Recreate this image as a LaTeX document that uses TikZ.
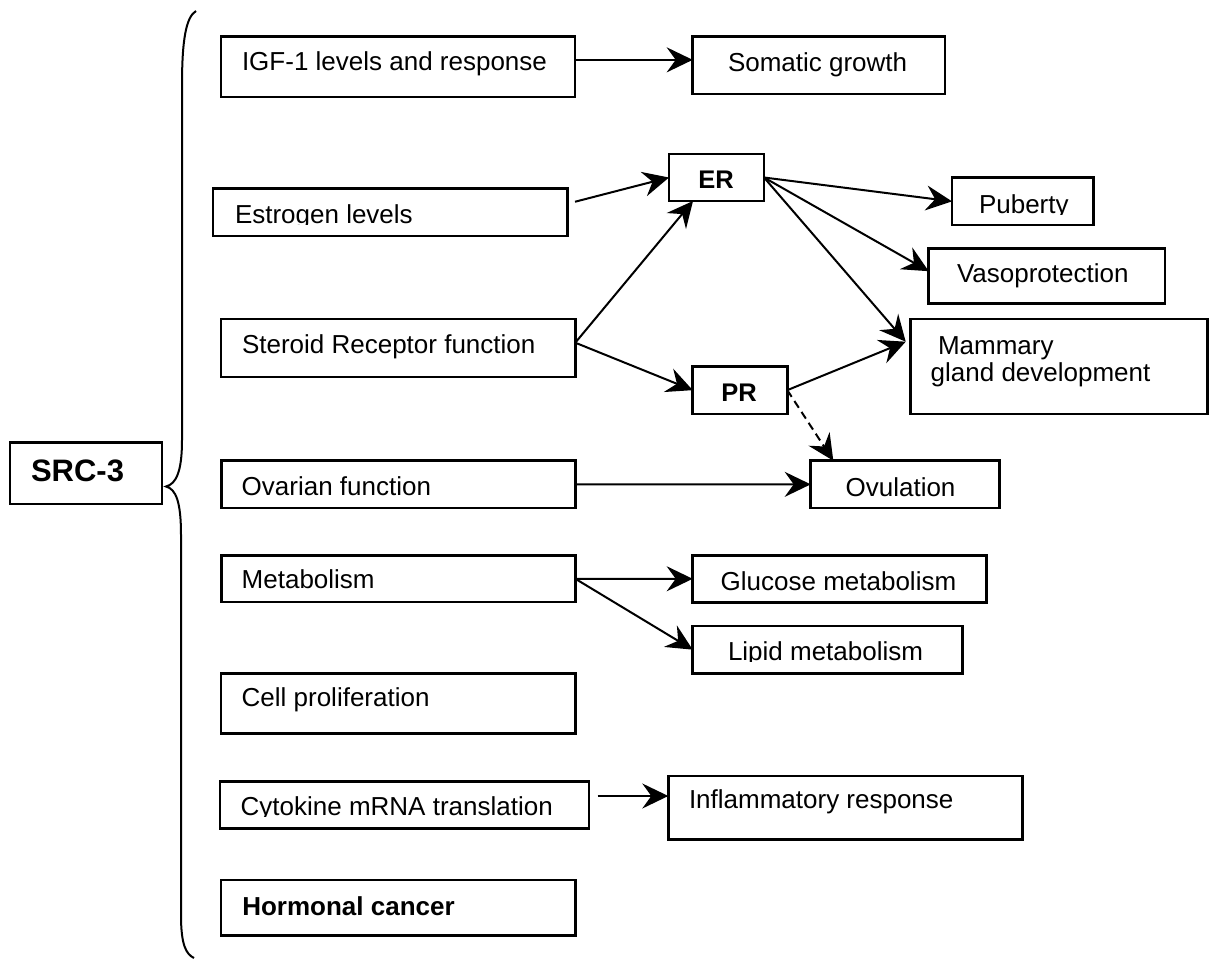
\documentclass[tikz,border=0pt]{standalone}
\usepackage{fontspec}
\setmainfont{Liberation Sans}
\usetikzlibrary{arrows.meta,calc}
\tikzset{
  box/.style={draw=black, line width=2.5pt, inner sep=0pt, outer sep=0pt, rectangle},
  txt/.style={inner sep=0pt, outer sep=0pt, font=\fontsize{26}{31}\selectfont},
  btxt/.style={inner sep=0pt, outer sep=0pt, font=\fontsize{25.5}{31}\selectfont\bfseries},
  arr/.style={line width=2pt, -{Stealth[length=26pt 0,width=25pt 0,inset=9pt 0]}},
  darr/.style={arr, dash pattern=on 8pt off 5pt},
  bracepath/.style={line width=2pt}
}
\newcommand{\bx}[5]{\node[box, minimum width={(#4-#2)*1pt}, minimum height={(#5-#3)*1pt}] (#1) at ({(#2+#4)/2},{(#3+#5)/2}) {};}
\begin{document}
\begin{tikzpicture}[x=1pt,y=-1pt]
\useasboundingbox (0,0) rectangle (1209,960);
% boxes
\bx{src}{10}{442.7}{162}{504}
\bx{igf}{221}{36.7}{575}{97}
\bx{som}{692.7}{36.7}{945}{94}
\bx{est}{213}{188.5}{567.7}{236}
\bx{er}{669}{154}{764}{201}
\bx{pub}{952}{177.7}{1093.7}{225}
\bx{vaso}{928.7}{248.7}{1165}{303.7}
\bx{mam}{910.7}{319}{1207.5}{414}
\bx{ster}{221}{319}{575.3}{377}
\bx{pr}{692.7}{366.3}{787.3}{414}
\bx{ova}{221.7}{460.5}{575.3}{508}
\bx{ovul}{810.7}{460.7}{999.6}{508}
\bx{met}{221.7}{555.3}{575.3}{602.2}
\bx{glu}{692.7}{555.3}{986.3}{602.3}
\bx{lip}{692.7}{626}{962.7}{673.3}
\bx{cell}{221}{673.3}{575.5}{733.3}
\bx{cyt}{220}{781.7}{589}{828.3}
\bx{inf}{668.3}{776}{1022.3}{839.3}
\bx{horm}{221}{880}{575.7}{935.7}
% texts
\node[btxt, anchor=base west, font=\fontsize{31}{36}\selectfont\bfseries] (srct) at (31,481.7) {SRC-3};
\node[txt, anchor=base west] (igft) at (242,71) {IGF-1 levels and response};
\node[txt, anchor=base west] (somt) at (728,71.7) {Somatic growth};
\begin{scope}
\clip (214,189) rectangle (567,224);
\node[txt, anchor=base west] (estt) at (235,223) {Estrogen levels};
\end{scope}
\node[btxt, anchor=base] (ert) at (716,189) {ER};
\begin{scope}
\clip (953,178) rectangle (1093,214);
\node[txt, anchor=base west] (pubt) at (979,213) {Puberty};
\end{scope}
\node[txt, anchor=base west] (vasot) at (957,282.7) {Vasoprotection};
\node[txt, anchor=base west] (mamt1) at (938,354) {Mammary};
\node[txt, anchor=base west] (mamt2) at (930.7,381.7) {gland development};
\node[txt, anchor=base west] (stert) at (242,353) {Steroid Receptor function};
\node[btxt, anchor=base] (prt) at (739,401.7) {PR};
\node[txt, anchor=base west] (ovat) at (241.7,495) {Ovarian function};
\node[txt, anchor=base west] (ovult) at (845.6,496.7) {Ovulation};
\node[txt, anchor=base west] (mett) at (241.7,588.3) {Metabolism};
\node[txt, anchor=base west] (glut) at (720.7,590) {Glucose metabolism};
\begin{scope}
\clip (693,627) rectangle (962,661);
\node[txt, anchor=base west] (lipt) at (728,660) {Lipid metabolism};
\end{scope}
\node[txt, anchor=base west] (cellt) at (241.7,706.7) {Cell proliferation};
\begin{scope}
\clip (221,782) rectangle (588,816);
\node[txt, anchor=base west] (cytt) at (240.7,815) {Cytokine mRNA translation};
\end{scope}
\node[txt, anchor=base west] (inft) at (689,808.3) {Inflammatory response};
\node[btxt, anchor=base west, font=\fontsize{26}{31}\selectfont\bfseries] (hormt) at (242.3,915) {Hormonal cancer};
% brace
\draw[bracepath] (196,11) .. controls (186,17) and (182,40) .. (182,85) -- (182,440)
  .. controls (182,472) and (176,484) .. (166,486.5)
  .. controls (176,489) and (181,502) .. (181,535) -- (181,915)
  .. controls (181,945) and (186,954) .. (194,958);
% named free ends
\coordinate (igfo) at ($(igf.east)+(0,-7)$);
\coordinate (esto) at ($(est.east)+(7.3,-10.5)$);
\coordinate (stero) at ($(ster.east)+(0,-5.3)$);
\coordinate (mamin) at ($(mam.north west)+(-5,22.7)$);
\coordinate (erbot) at ($(er.south west)+(24,0)$);
\coordinate (vasoin) at ($(vaso.west)+(0,-5)$);
\coordinate (ovulin) at ($(ovul.north west)+(22.6,0)$);
\coordinate (cyto) at ($(cyt.east)+(8.7,-9)$);
% connectors
\draw[arr] (igfo) -- (som.west |- igfo);
\draw[arr] (esto) -- (er.west);
\draw[arr] (stero) -- (erbot);
\draw[arr] (stero) -- (pr.west);
\draw[arr] (er.east) -- (pub.west);
\draw[arr] (er.east) -- (vasoin);
\draw[arr] (er.east) -- (mamin);
\draw[arr] (pr.east) -- (mamin);
\draw[darr] (pr.east) -- (ovulin);
\draw[arr] (ova.east) -- (ovul.west);
\draw[arr] (met.east) -- (glu.west);
\draw[arr] (met.east) -- (lip.west);
\draw[arr] (cyto) -- (inf.west |- cyto);
\end{tikzpicture}
\end{document}
